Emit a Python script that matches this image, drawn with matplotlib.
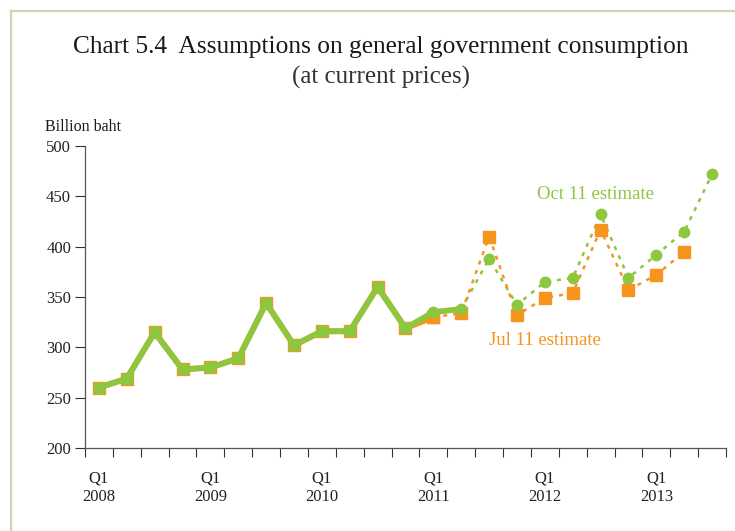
import matplotlib
matplotlib.use('Agg')
import matplotlib.pyplot as plt
from matplotlib.lines import Line2D

plt.rcParams['font.family'] = ['Liberation Serif', 'DejaVu Serif']

# quarters 2008Q1 .. 2013Q3
years = [2008, 2009, 2010, 2011, 2012, 2013]
n_quarters = 23

# Jul 11 estimate (actual part up to 2011Q1, then estimate to 2013Q2)
jul = [260, 269, 315, 278, 280, 289, 344, 302, 316, 316, 360, 319,
       330, 334, 410, 332, 349, 354, 417, 357, 372, 395]
jul_last_actual = 12

# Oct 11 estimate (actual part up to 2011Q2, then estimate to 2013Q3)
oct_ = [260, 269, 315, 278, 280, 289, 344, 302, 316, 316, 360, 319,
        335, 338, 388, 342, 365, 369, 432, 369, 392, 415, 472]
oct_last_actual = 13
n_same = 12  # points where both series are identical (square markers)

green = '#8dc63f'
orange = '#f7941d'

fig = plt.figure(figsize=(7.35, 5.31), dpi=100)
ax = fig.add_axes([0.1156, 0.1563, 0.8722, 0.5687])

x_jul = list(range(len(jul)))
x_oct = list(range(len(oct_)))

# Jul 11: solid part then dotted estimate
ax.plot(x_jul[:jul_last_actual + 1], jul[:jul_last_actual + 1], color=orange, lw=4.2,
        marker='s', ms=8, mfc=orange, mec=orange, zorder=2, solid_capstyle='round')
ax.plot(x_jul[jul_last_actual:], jul[jul_last_actual:], color=orange, lw=1.8,
        ls=(0, (1.6, 2.4)), marker='s', ms=8, mfc=orange, mec=orange, zorder=3)

# Oct 11: solid part then dotted estimate
ax.plot(x_oct[:oct_last_actual + 1], oct_[:oct_last_actual + 1], color=green, lw=4.2,
        zorder=4, solid_capstyle='round', solid_joinstyle='round')
ax.plot(x_oct[:n_same], oct_[:n_same], ls='none', marker='s', ms=7.2,
        mfc=green, mec=green, zorder=5)
ax.plot(x_oct[oct_last_actual:], oct_[oct_last_actual:], color=green, lw=1.8,
        ls=(0, (1.6, 2.4)), zorder=2.5)
ax.plot(x_oct[n_same:], oct_[n_same:], ls='none', marker='o', ms=7.5,
        mfc=green, mec=green, zorder=5)

ax.set_xlim(-0.5, n_quarters - 0.5)
ax.set_ylim(200, 500)
ax.set_yticks(range(200, 501, 50))

ax.set_xticks([i - 0.5 for i in range(n_quarters + 1)])
ax.set_xticklabels([])
ax.set_xticks([4 * i for i in range(len(years))], minor=True)
ax.set_xticklabels(['Q1\n%d' % y for y in years], minor=True)
ax.tick_params(axis='x', which='major', direction='out', length=6.5, width=0.8, color='#333333')
ax.tick_params(axis='x', which='minor', length=0, pad=16, labelsize=12, colors='#222222')
ax.tick_params(axis='y', direction='out', length=7, width=0.8, pad=3, labelsize=12,
               color='#333333', labelcolor='#222222')

for s in ['top', 'right']:
    ax.spines[s].set_visible(False)
for s in ['left', 'bottom']:
    ax.spines[s].set_color('#555555')
    ax.spines[s].set_linewidth(0.9)

ax.text(17.8, 452, 'Oct 11 estimate', color=green, fontsize=13.5, ha='center', va='center')
ax.text(16.0, 307, 'Jul 11 estimate', color=orange, fontsize=13.5, ha='center', va='center')

fig.text(0.518, 0.912, 'Chart 5.4  Assumptions on general government consumption',
         ha='center', va='center', fontsize=18.3, color='#1a1a1a')
fig.text(0.518, 0.855, '(at current prices)', ha='center', va='center',
         fontsize=18, color='#333333')
fig.text(0.061, 0.761, 'Billion baht', ha='left', va='center', fontsize=11.5, color='#1a1a1a')

# frame lines at the top and left of the panel
fig.add_artist(Line2D([0.0143, 1.0], [0.979, 0.979], transform=fig.transFigure,
                      color='#d8cfb2', lw=1.6))
fig.add_artist(Line2D([0.0143, 0.0143], [0.0, 0.979], transform=fig.transFigure,
                      color='#d8cfb2', lw=1.6))

fig.savefig('out.png', dpi=100)
